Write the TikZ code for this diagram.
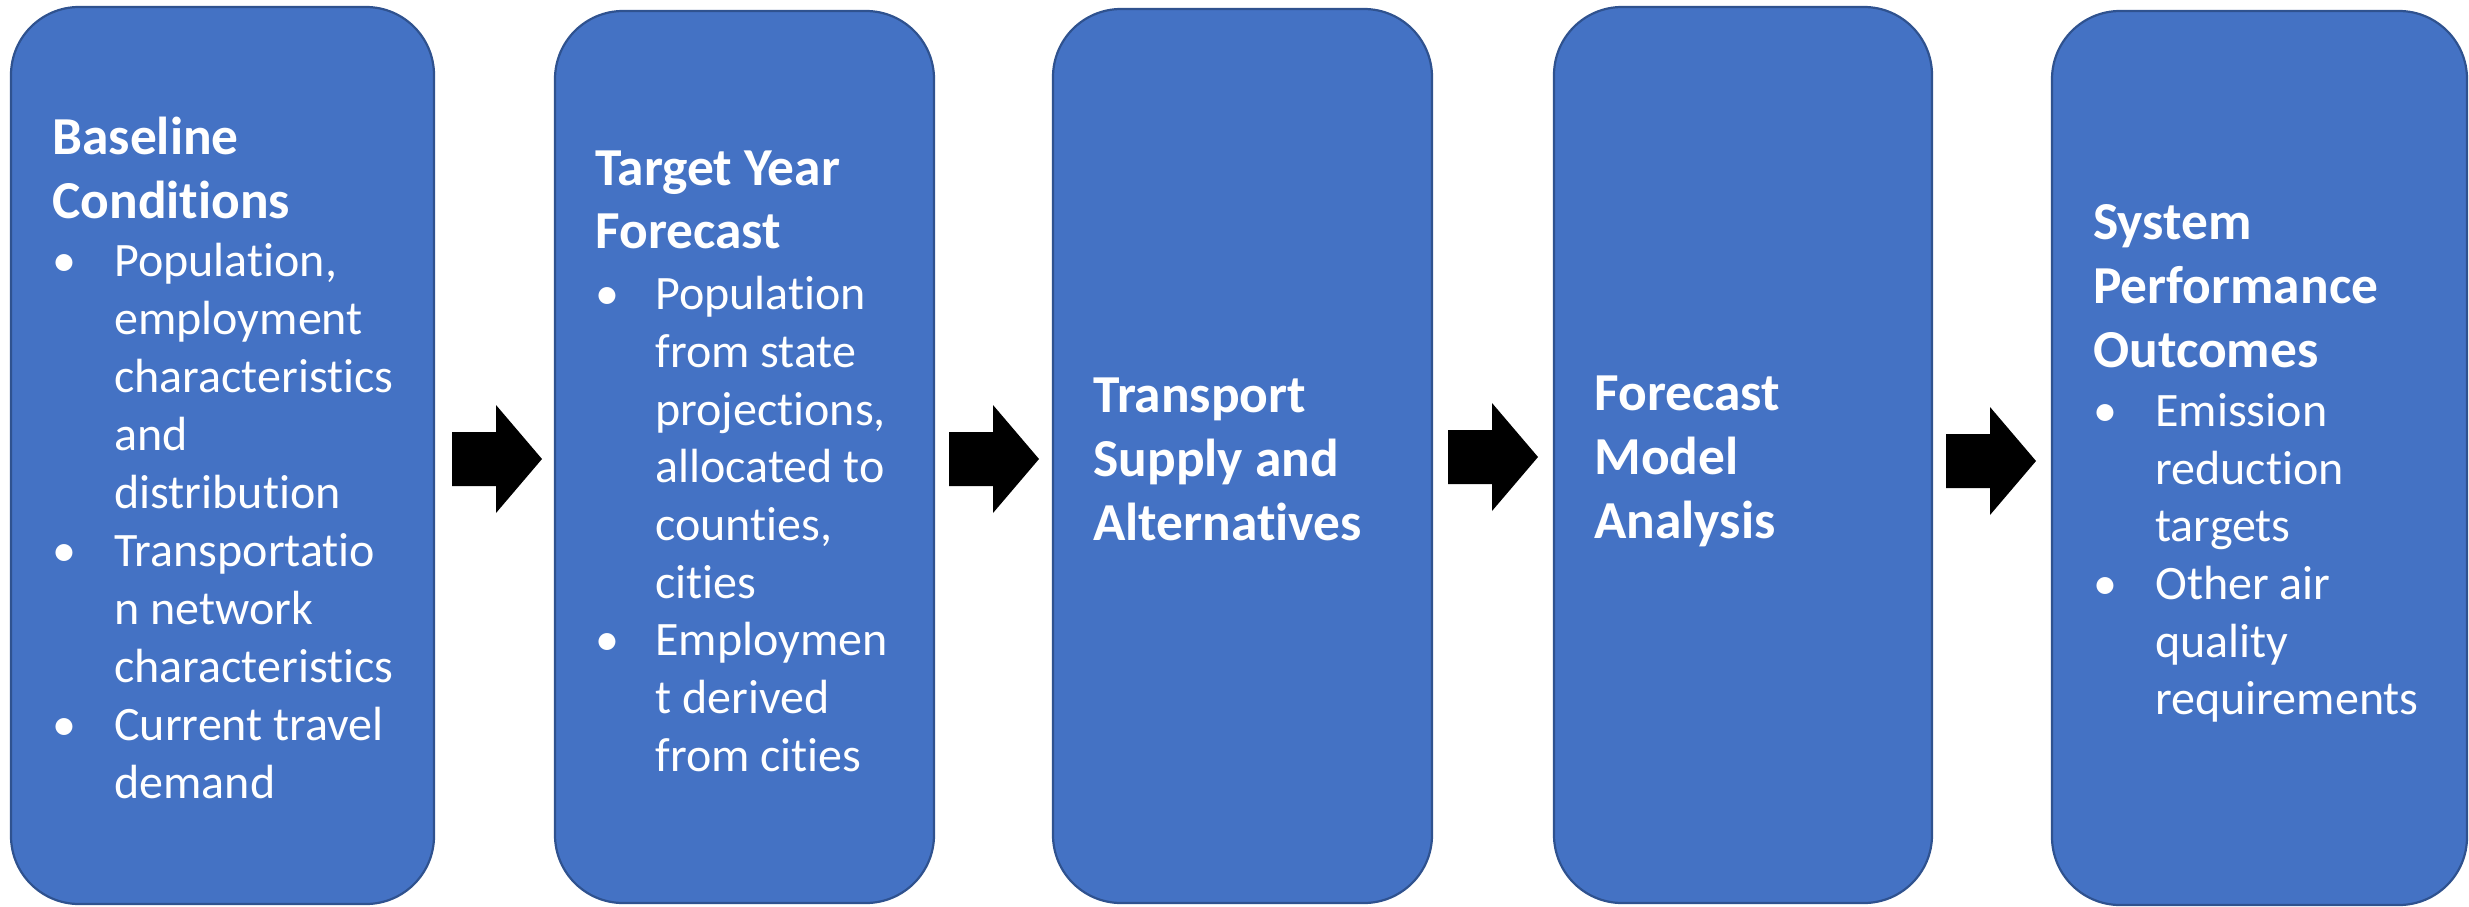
\documentclass[tikz,border=0pt]{standalone}
\usepackage{fontspec}
\setmainfont{Carlito}[Ligatures=CommonOff]
\definecolor{boxblue}{HTML}{4472C4}
\definecolor{boxedge}{HTML}{2F528F}
\begin{document}
\begin{tikzpicture}[x=0.5pt,y=-0.5pt,
  stage/.style={draw=boxedge, fill=boxblue, line width=1.1pt, rounded corners=34pt, inner sep=0pt},
  ttl/.style={anchor=base west, inner sep=0pt, text=white, font=\fontsize{26.7}{32}\selectfont\bfseries},
  bod/.style={anchor=base west, inner sep=0pt, text=white, font=\fontsize{24}{29}\selectfont},
  blockarrow/.style={fill=black}]
\useasboundingbox (0,0) rectangle (2469,906);
% stages
\node[stage, minimum width=211.5pt, minimum height=448.5pt] (s1) at (222.5,455.5) {};
\node[stage, minimum width=189.5pt, minimum height=446pt] (s2) at (744.5,457) {};
\node[stage, minimum width=189.5pt, minimum height=447pt] (s3) at (1242.5,456) {};
\node[stage, minimum width=189pt, minimum height=448pt] (s4) at (1743,455) {};
\node[stage, minimum width=207.5pt, minimum height=447pt] (s5) at (2259.5,458) {};
% block arrows
\coordinate (a1) at (452,459);
\coordinate (a2) at (949,459);
\coordinate (a3) at (1448,457);
\coordinate (a4) at (1946,461);
\foreach \a in {a1,a2,a3,a4}
  \fill[blockarrow] (\a) ++(0,-27) -- ++(44,0) -- ++(0,-27) -- ++(46,54) -- ++(-46,54) -- ++(0,-27) -- ++(-44,0) -- cycle;
% box 1
\node[ttl] (t1a) at (52,154) {Baseline};
\node[ttl] (t1b) at (52,218) {Conditions};
\foreach \n/\y in {p1a/276,p1b/566,p1c/740}
  \node[bod] (\n) at (52,\y) {•};
\foreach \n/\y/\t in {l1a/276/{Population,},l1b/334/{employment},l1c/392/{characteristics},l1d/450/{and},l1e/508/{distribution},l1f/566/{Transportatio},l1g/624/{n network},l1h/682/{characteristics},l1i/740/{Current travel},l1j/798/{demand}}
  \node[bod] (\n) at (114,\y) {\t};
% box 2
\node[ttl] (t2a) at (595,185) {Target Year};
\node[ttl] (t2b) at (595,248) {Forecast};
\foreach \n/\y in {p2a/309,p2b/655}
  \node[bod] (\n) at (595,\y) {•};
\foreach \n/\y/\t in {l2a/309/{Population},l2b/367/{from state},l2c/425/{projections,},l2d/482/{allocated to},l2e/540/{counties,},l2f/598/{cities},l2g/655/{Employmen},l2h/713/{t derived},l2i/771/{from cities}}
  \node[bod] (\n) at (655,\y) {\t};
% box 3
\node[ttl] (t3a) at (1093,412) {Transport};
\node[ttl] (t3b) at (1093,476) {Supply and};
\node[ttl] (t3c) at (1093,540) {Alternatives};
% box 4
\node[ttl] (t4a) at (1594,410) {Forecast};
\node[ttl] (t4b) at (1594,474) {Model};
\node[ttl] (t4c) at (1594,538) {Analysis};
% box 5
\node[ttl] (t5a) at (2093,239) {System};
\node[ttl] (t5b) at (2093,303) {Performance};
\node[ttl] (t5c) at (2093,367) {Outcomes};
\foreach \n/\y in {p5a/426,p5b/599}
  \node[bod] (\n) at (2093,\y) {•};
\foreach \n/\y/\t in {l5a/426/{Emission},l5b/484/{reduction},l5c/541/{targets},l5d/599/{Other air},l5e/657/{quality},l5f/714/{requirements}}
  \node[bod] (\n) at (2155,\y) {\t};
\end{tikzpicture}
\end{document}
